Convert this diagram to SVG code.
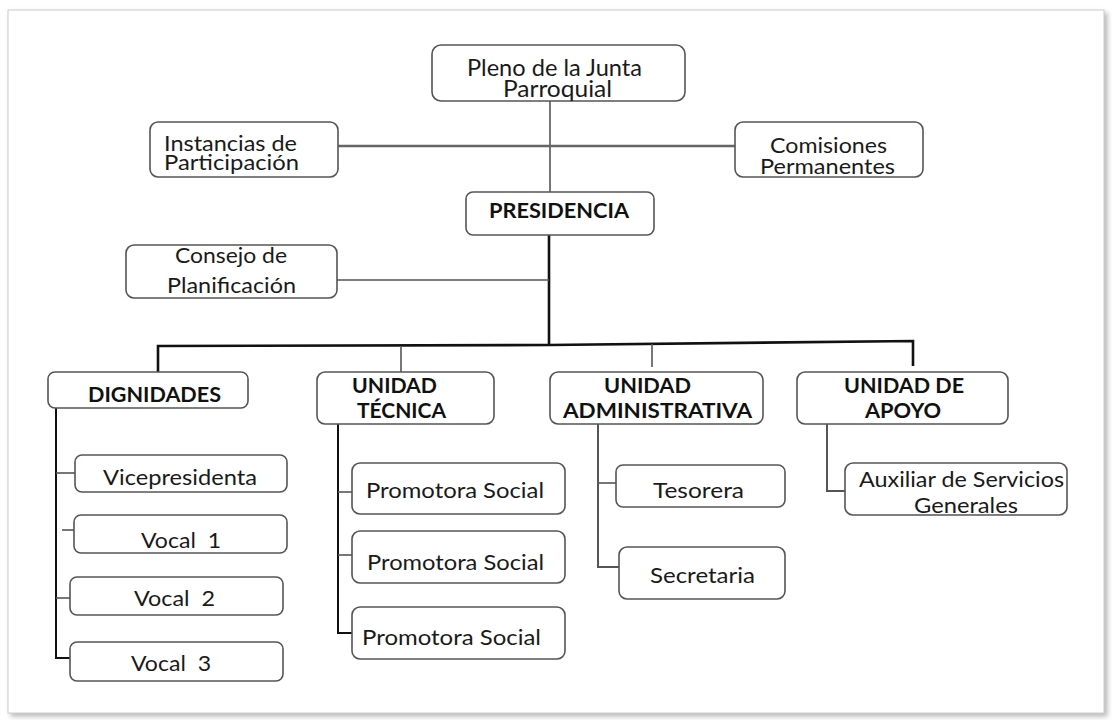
<svg xmlns="http://www.w3.org/2000/svg" width="1112" height="720" viewBox="0 0 1112 720">
<style>
.box{fill:#fff;stroke:#555;stroke-width:1.6}
.t{font-family:Lato,"Open Sans",sans-serif;font-size:21px;fill:#1a1a1a;white-space:pre}
.c{font-family:Lato,"Open Sans",sans-serif;font-size:21px;fill:#1a1a1a}
.b{font-family:Lato,"Open Sans",sans-serif;font-size:21px;font-weight:bold;fill:#111}
.ln{stroke:#555;stroke-width:1.6;fill:none}
.thick{stroke:#111;stroke-width:2.6;fill:none}
</style>
<defs>
<filter id="sh" x="-5%" y="-5%" width="110%" height="110%">
<feDropShadow dx="3" dy="3" stdDeviation="2.5" flood-color="#888" flood-opacity="0.6"/>
</filter>
</defs>
<rect x="0" y="0" width="1112" height="720" fill="#fff"/>
<rect x="8" y="10" width="1096" height="703" fill="#fff" stroke="#ccc" stroke-width="1" filter="url(#sh)"/>

<g id="connectors">
<line class="ln" x1="550" y1="101" x2="550" y2="192"/>
<line x1="338" y1="146" x2="735" y2="146" stroke="#666" stroke-width="2.4"/>
<line class="thick" x1="549" y1="235" x2="549" y2="345"/>
<line class="ln" x1="337" y1="280" x2="549" y2="280"/>
<polyline class="thick" points="158,372 158,346 549,345 913,341 913,366"/>
<line class="ln" x1="401" y1="346" x2="401" y2="372"/>
<line class="ln" x1="652" y1="344" x2="652" y2="367"/>
<polyline class="thick" style="stroke-width:2" points="56,408 56,658 70,658"/>
<line class="ln" x1="56" y1="473" x2="75" y2="473"/>
<line class="ln" x1="62" y1="530" x2="74" y2="530"/>
<line class="ln" x1="56" y1="598" x2="70" y2="598"/>
<polyline class="thick" style="stroke-width:2" points="338,424 338,633 352,633"/>
<line class="ln" x1="338" y1="492" x2="352" y2="492"/>
<line class="ln" x1="338" y1="555" x2="352" y2="555"/>
<polyline class="ln" style="stroke-width:2" points="598,424 598,567 619,567"/>
<line class="ln" x1="598" y1="483" x2="616" y2="483"/>
<polyline class="ln" style="stroke-width:2" points="827,424 827,491 845,491"/>
</g>

<g id="pleno">
<rect class="box" x="432" y="45" width="253" height="56" rx="9"/>
<text class="c" style="font-size:22.5px" x="467" y="76" textLength="175" lengthAdjust="spacingAndGlyphs">Pleno de la Junta</text>
<text class="c" style="font-size:22.5px" x="503" y="97" textLength="109" lengthAdjust="spacingAndGlyphs">Parroquial</text>
</g>
<g id="instancias">
<rect class="box" x="150" y="122" width="188" height="55" rx="8"/>
<text class="c" x="164" y="151" textLength="133" lengthAdjust="spacingAndGlyphs">Instancias de</text>
<text class="c" x="164" y="170" textLength="135" lengthAdjust="spacingAndGlyphs">Participación</text>
</g>
<g id="comisiones">
<rect class="box" x="735" y="122" width="188" height="55" rx="8"/>
<text class="c" x="770" y="153" textLength="117" lengthAdjust="spacingAndGlyphs">Comisiones</text>
<text class="c" x="760" y="174" textLength="135" lengthAdjust="spacingAndGlyphs">Permanentes</text>
</g>
<g id="presidencia">
<rect class="box" x="466" y="192" width="188" height="43" rx="7"/>
<text class="b" style="font-size:20px" x="489" y="218" textLength="140" lengthAdjust="spacingAndGlyphs">PRESIDENCIA</text>
</g>
<g id="consejo">
<rect class="box" x="126" y="245" width="211" height="53" rx="8"/>
<text class="t" x="175" y="263" textLength="112" lengthAdjust="spacingAndGlyphs">Consejo de</text>
<text class="t" x="167" y="293" textLength="129" lengthAdjust="spacingAndGlyphs">Planificación</text>
</g>
<g id="dignidades">
<rect class="box" x="48" y="372" width="200" height="36" rx="7"/>
<text class="b" x="88" y="402" textLength="133" lengthAdjust="spacingAndGlyphs">DIGNIDADES</text>
</g>
<g id="tecnica">
<rect class="box" x="317" y="372" width="177" height="52" rx="8"/>
<text class="b" x="352" y="393" textLength="85" lengthAdjust="spacingAndGlyphs">UNIDAD</text>
<text class="b" x="357" y="418" textLength="89" lengthAdjust="spacingAndGlyphs">TÉCNICA</text>
</g>
<g id="administrativa">
<rect class="box" x="550" y="372" width="213" height="52" rx="8"/>
<text class="b" x="604" y="393" textLength="87" lengthAdjust="spacingAndGlyphs">UNIDAD</text>
<text class="b" x="563" y="418" textLength="189" lengthAdjust="spacingAndGlyphs">ADMINISTRATIVA</text>
</g>
<g id="apoyo">
<rect class="box" x="797" y="372" width="211" height="52" rx="8"/>
<text class="b" x="844" y="393" textLength="120" lengthAdjust="spacingAndGlyphs">UNIDAD DE</text>
<text class="b" x="865" y="418" textLength="76" lengthAdjust="spacingAndGlyphs">APOYO</text>
</g>
<g id="vicepresidenta">
<rect class="box" x="75" y="455" width="212" height="37" rx="7"/>
<text class="t" x="103" y="485" textLength="154" lengthAdjust="spacingAndGlyphs">Vicepresidenta</text>
</g>
<g id="vocal1">
<rect class="box" x="74" y="515" width="213" height="38" rx="7"/>
<text class="t" x="141" y="548" textLength="80" lengthAdjust="spacingAndGlyphs">Vocal  1</text>
</g>
<g id="vocal2">
<rect class="box" x="70" y="577" width="213" height="38" rx="7"/>
<text class="t" x="134" y="606" textLength="81" lengthAdjust="spacingAndGlyphs">Vocal  2</text>
</g>
<g id="vocal3">
<rect class="box" x="70" y="642" width="213" height="39" rx="7"/>
<text class="t" x="131" y="671" textLength="80" lengthAdjust="spacingAndGlyphs">Vocal  3</text>
</g>
<g id="promotora1">
<rect class="box" x="352" y="463" width="213" height="51" rx="8"/>
<text class="t" x="366" y="498" textLength="178" lengthAdjust="spacingAndGlyphs">Promotora Social</text>
</g>
<g id="promotora2">
<rect class="box" x="352" y="531" width="213" height="52" rx="8"/>
<text class="t" x="367" y="570" textLength="177" lengthAdjust="spacingAndGlyphs">Promotora Social</text>
</g>
<g id="promotora3">
<rect class="box" x="352" y="607" width="213" height="52" rx="8"/>
<text class="t" x="362" y="645" textLength="179" lengthAdjust="spacingAndGlyphs">Promotora Social</text>
</g>
<g id="tesorera">
<rect class="box" x="616" y="465" width="169" height="42" rx="7"/>
<text class="t" x="653" y="498" textLength="91" lengthAdjust="spacingAndGlyphs">Tesorera</text>
</g>
<g id="secretaria">
<rect class="box" x="619" y="547" width="166" height="52" rx="8"/>
<text class="t" x="650" y="583" textLength="105" lengthAdjust="spacingAndGlyphs">Secretaria</text>
</g>
<g id="auxiliar">
<rect class="box" x="845" y="463" width="222" height="52" rx="8"/>
<text class="t" x="859" y="487" textLength="205" lengthAdjust="spacingAndGlyphs">Auxiliar de Servicios</text>
<text class="t" x="914" y="513" textLength="104" lengthAdjust="spacingAndGlyphs">Generales</text>
</g>
</svg>
